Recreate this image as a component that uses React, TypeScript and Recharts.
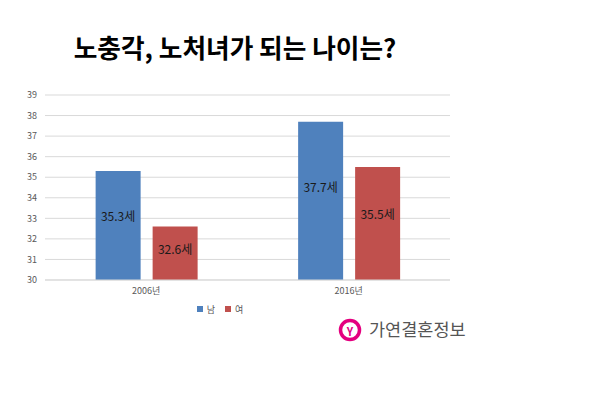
import React from "react";
import { BarChart, Bar, XAxis, YAxis, CartesianGrid, Legend, LabelList } from "recharts";

const categories = ["2006년", "2016년"];
const maleValues = [35.3, 37.7];
const femaleValues = [32.6, 35.5];
const yTicks = [30, 31, 32, 33, 34, 35, 36, 37, 38, 39];
const seriesNames = ["남", "여"];

const data = categories.map((c, i) => ({ year: c, male: maleValues[i], female: femaleValues[i] }));

const FONT = "'Noto Sans CJK KR', 'Noto Sans', sans-serif";

const renderLabel = (props: any) => {
  const { x, y, width, height, value } = props;
  return (
    <text
      x={x + width / 2}
      y={y + height * 0.41}
      textAnchor="middle"
      dominantBaseline="central"
      fontSize={12}
      fill="#1a1a1a"
      fontFamily={FONT}
    >
      {value}세
    </text>
  );
};

export default function App() {
  return (
    <div style={{ position: "absolute", left: 0, top: 0, width: 600, height: 399, background: "#fff", fontFamily: FONT }}>
      <div
        style={{
          position: "absolute",
          left: 0,
          top: 30,
          width: 470,
          textAlign: "center",
          fontSize: 25.7,
          fontWeight: 700,
          color: "#000",
          lineHeight: "34px",
        }}
      >
        노충각, 노처녀가 되는 나이는?
      </div>
      <BarChart
        width={600}
        height={399}
        data={data}
        margin={{ top: 95, right: 150, bottom: 81, left: 0 }}
        barCategoryGap="25%"
        barGap={12}
      >
        <CartesianGrid vertical={false} stroke="#d9d9d9" />
        <XAxis
          dataKey="year"
          height={14}
          tickLine={false}
          axisLine={{ stroke: "#d9d9d9" }}
          tick={{ fontSize: 9, fill: "#595959", fontFamily: FONT }}
        />
        <YAxis
          width={45}
          domain={[30, 39]}
          ticks={yTicks}
          interval={0}
          tickLine={false}
          axisLine={false}
          tick={{ fontSize: 9, fill: "#595959", fontFamily: FONT }}
        />
        <Legend
          verticalAlign="bottom"
          align="center"
          iconType="square"
          iconSize={6}
          formatter={(v: string) => <span style={{ color: "#595959", fontSize: 9, fontFamily: FONT }}>{v}</span>}
        />
        <Bar dataKey="male" name={seriesNames[0]} fill="#4f81bd" isAnimationActive={false}>
          <LabelList dataKey="male" content={renderLabel} />
        </Bar>
        <Bar dataKey="female" name={seriesNames[1]} fill="#c0504d" isAnimationActive={false}>
          <LabelList dataKey="female" content={renderLabel} />
        </Bar>
      </BarChart>
      <svg style={{ position: "absolute", left: 337, top: 317 }} width={26} height={26}>
        <circle cx={13} cy={13} r={9.5} fill="none" stroke="#e4007f" strokeWidth={3.5} />
        <text x={13} y={14} textAnchor="middle" dominantBaseline="central" fontSize={11} fontWeight={700} fill="#e4007f" fontFamily={FONT}>
          Y
        </text>
      </svg>
      <div
        style={{
          position: "absolute",
          left: 369,
          top: 317,
          fontSize: 17.5,
          color: "#555",
          lineHeight: "24px",
          letterSpacing: 0,
        }}
      >
        가연결혼정보
      </div>
    </div>
  );
}
